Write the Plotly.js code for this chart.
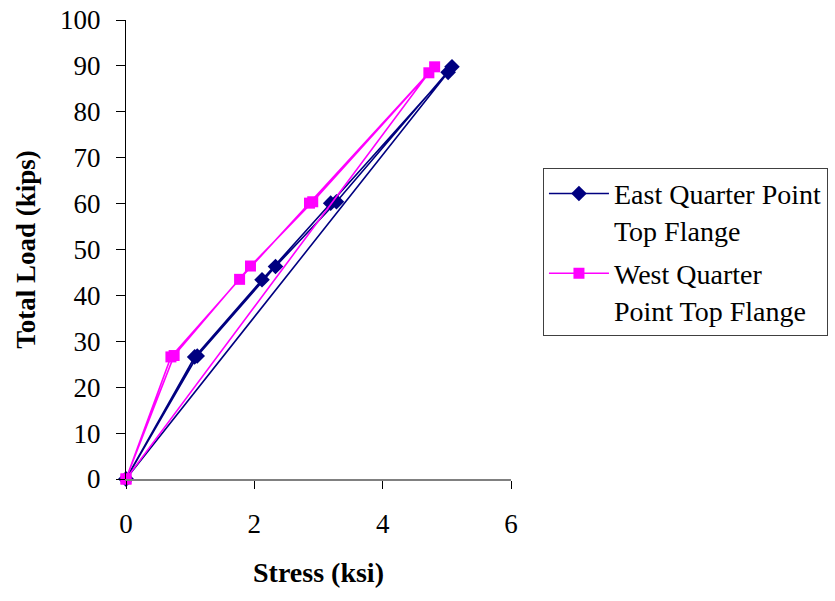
<!DOCTYPE html>
<html>
<head>
<meta charset="utf-8">
<script src="https://cdn.plot.ly/plotly-3.0.1.min.js"></script>
<style>html,body{margin:0;padding:0;background:#fff;}#chart{width:835px;height:601px;}</style>
</head>
<body>
<div id="chart"></div>
<script>
// East Quarter Point Top Flange (two load cycles)
const eastStress = [0, 1.07, 2.12, 3.19, 5.02, 0, 1.11, 2.33, 3.28, 5.08];
const eastLoad   = [0, 26.6, 43.4, 60.1, 88.6, 0, 26.8, 46.3, 60.4, 89.8];
// West Quarter Point Top Flange (two load cycles)
const westStress = [0, 0.70, 1.77, 2.86, 4.72, 0, 0.75, 1.94, 2.91, 4.81];
const westLoad   = [0, 26.6, 43.5, 60.1, 88.5, 0, 26.9, 46.4, 60.4, 89.8];

const seriesNames = ['East Quarter Point<br>Top Flange', 'West Quarter<br>Point Top Flange'];
const xTicks = [0, 2, 4, 6];
const yTicks = [0, 10, 20, 30, 40, 50, 60, 70, 80, 90, 100];

const font = '"Liberation Serif", "Times New Roman", serif';

const traces = [
  {
    x: eastStress, y: eastLoad, name: seriesNames[0], type: 'scatter', mode: 'lines+markers',
    legendgroup: 'east',
    line: {color: '#000080', width: 1.6},
    marker: {symbol: 'diamond', size: 12, color: '#000080'},
    cliponaxis: false
  },
  {
    x: westStress, y: westLoad, name: seriesNames[1], type: 'scatter', mode: 'lines+markers',
    legendgroup: 'west',
    line: {color: '#FF00FF', width: 1.6},
    marker: {symbol: 'square', size: 11, color: '#FF00FF'},
    cliponaxis: false
  }
];

const layout = {
  width: 835, height: 601,
  paper_bgcolor: '#fff', plot_bgcolor: '#fff',
  margin: {l: 126, r: 324, t: 20, b: 122, autoexpand: false},
  font: {family: font, size: 27, color: '#000'},
  showlegend: true,
  legend: {
    x: 1.083, y: 0.678, xanchor: 'left', yanchor: 'top',
    bordercolor: '#404040', borderwidth: 1,
    itemwidth: 60, valign: 'top',
    traceorder: 'grouped', tracegroupgap: 4,
    font: {family: font, size: 28, color: '#000'}
  },
  xaxis: {
    range: [0, 6], tickvals: xTicks, ticktext: xTicks.map(String),
    showgrid: false, zeroline: false,
    showline: true, linecolor: '#808080', linewidth: 1.5,
    ticks: 'outside', ticklen: 8, tickcolor: '#000', tickwidth: 1,
    ticklabelstandoff: 12,
    tickfont: {family: font, size: 27},
    title: {text: '<b>Stress (ksi)</b>', font: {family: font, size: 28}, standoff: 24}
  },
  yaxis: {
    range: [0, 100], tickvals: yTicks, ticktext: yTicks.map(String),
    showgrid: false, zeroline: false,
    showline: true, linecolor: '#000', linewidth: 1,
    ticks: 'outside', ticklen: 9, tickcolor: '#000', tickwidth: 1,
    ticklabelstandoff: 10,
    tickfont: {family: font, size: 27},
    title: {text: '<b>Total Load (kips)</b>', font: {family: font, size: 27}, standoff: 16}
  }
};

Plotly.newPlot('chart', traces, layout, {displayModeBar: false, staticPlot: true});
</script>
</body>
</html>
